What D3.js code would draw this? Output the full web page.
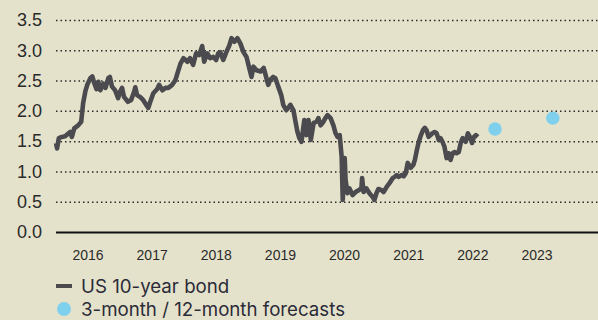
<!DOCTYPE html>
<html><head><meta charset="utf-8">
<script src="https://cdn.jsdelivr.net/npm/d3@7"></script>
<style>
html,body{margin:0;padding:0;background:#e5e2cc;}
svg{display:block;}
</style></head>
<body><svg id="c" width="598" height="320"></svg>
<script>
// ---- data ----
const bondDates = ["2016-07-01","2016-07-06","2016-07-14","2016-07-28","2016-08-12","2016-09-04","2016-09-12","2016-09-23","2016-10-11","2016-10-25","2016-11-03","2016-11-13","2016-11-22","2016-12-06","2016-12-15","2016-12-24","2017-01-03","2017-01-12","2017-01-21","2017-02-04","2017-02-14","2017-02-27","2017-03-06","2017-03-16","2017-03-30","2017-04-13","2017-04-22","2017-05-01","2017-05-10","2017-05-28","2017-06-12","2017-06-26","2017-07-01","2017-07-09","2017-07-23","2017-08-06","2017-08-20","2017-08-30","2017-09-08","2017-09-22","2017-10-10","2017-10-19","2017-11-03","2017-11-17","2017-11-30","2017-12-18","2018-01-02","2018-01-11","2018-01-25","2018-02-08","2018-02-26","2018-03-10","2018-03-24","2018-04-07","2018-04-21","2018-05-05","2018-05-14","2018-05-28","2018-06-11","2018-06-25","2018-07-08","2018-07-18","2018-07-27","2018-08-10","2018-08-24","2018-09-07","2018-09-17","2018-09-30","2018-10-14","2018-10-28","2018-11-11","2018-11-25","2018-12-04","2018-12-18","2018-12-27","2019-01-10","2019-01-29","2019-02-12","2019-02-21","2019-03-05","2019-03-14","2019-03-28","2019-04-07","2019-04-20","2019-05-04","2019-05-13","2019-05-27","2019-06-06","2019-06-15","2019-06-29","2019-07-07","2019-07-17","2019-07-26","2019-08-05","2019-08-18","2019-08-28","2019-09-06","2019-09-13","2019-09-17","2019-09-30","2019-10-13","2019-10-22","2019-11-01","2019-11-14","2019-11-23","2019-12-03","2019-12-17","2019-12-30","2020-01-09","2020-01-18","2020-01-28","2020-02-06","2020-02-11","2020-02-15","2020-02-20","2020-02-24","2020-03-04","2020-03-13","2020-03-27","2020-04-10","2020-04-24","2020-05-07","2020-05-10","2020-05-17","2020-05-30","2020-06-13","2020-06-27","2020-07-06","2020-07-15","2020-07-24","2020-08-08","2020-08-17","2020-09-01","2020-09-14","2020-09-28","2020-10-07","2020-10-16","2020-10-26","2020-11-09","2020-11-18","2020-11-27","2020-12-06","2020-12-20","2021-01-01","2021-01-08","2021-01-17","2021-01-26","2021-02-05","2021-02-14","2021-02-23","2021-03-03","2021-03-12","2021-03-21","2021-03-30","2021-04-09","2021-04-18","2021-04-28","2021-05-06","2021-05-15","2021-05-24","2021-06-03","2021-06-12","2021-06-21","2021-07-01","2021-07-10","2021-07-19","2021-07-29","2021-08-07","2021-08-16","2021-08-30","2021-09-09","2021-09-18","2021-09-28","2021-10-07","2021-10-16","2021-10-25"];
const bondValues = [1.47,1.38,1.55,1.57,1.58,1.65,1.57,1.71,1.76,1.82,2.13,2.32,2.43,2.54,2.57,2.46,2.36,2.48,2.34,2.45,2.38,2.54,2.56,2.40,2.34,2.21,2.32,2.38,2.23,2.15,2.18,2.32,2.39,2.26,2.23,2.18,2.10,2.05,2.15,2.29,2.36,2.43,2.34,2.38,2.38,2.43,2.51,2.62,2.78,2.87,2.81,2.87,2.76,2.95,2.92,3.07,2.81,2.95,2.87,2.89,2.84,2.95,2.97,2.84,2.97,3.08,3.20,3.14,3.20,3.11,2.97,2.89,2.76,2.56,2.73,2.67,2.65,2.71,2.59,2.43,2.51,2.56,2.54,2.40,2.26,2.10,2.01,2.05,2.10,2.01,1.85,1.66,1.55,1.49,1.85,1.60,1.85,1.68,1.52,1.80,1.82,1.88,1.76,1.82,1.88,1.93,1.88,1.76,1.63,1.57,1.60,1.24,0.53,0.86,1.22,0.86,0.64,0.72,0.61,0.66,0.69,0.72,0.89,0.66,0.72,0.64,0.58,0.53,0.64,0.71,0.69,0.66,0.75,0.81,0.89,0.91,0.94,0.91,0.94,0.92,0.97,1.14,1.06,1.11,1.19,1.35,1.49,1.60,1.68,1.72,1.68,1.57,1.60,1.63,1.65,1.63,1.52,1.55,1.49,1.41,1.22,1.30,1.19,1.30,1.32,1.30,1.32,1.47,1.55,1.49,1.63,1.57,1.47,1.57,1.60,1.57];
const forecastDates = ["2022-01-12","2022-10-05"];
const forecastValues = [1.70,1.88];
const yTicks = [0,0.5,1.0,1.5,2.0,2.5,3.0,3.5];
const xTickLabels = ["2016","2017","2018","2019","2020","2021","2022","2023"];
const legendLabels = ["US 10-year bond","3-month / 12-month forecasts"];
const lineColor = "#4b4a4e", dotColor = "#7fd0ec";

// ---- layout ----
const svg = d3.select("#c");
const plotL = 56, plotR = 598, plotT = 20, plotB = 232;
const parse = d3.utcParse("%Y-%m-%d");
const x = d3.scaleUtc().domain([parse("2016-07-01"), parse("2023-05-01")]).range([plotL, plotR]);
const y = d3.scaleLinear().domain([0, 3.5]).range([plotB, plotT]);
const xl = d3.scalePoint().domain(xTickLabels).range([87.5, 536.5]);

// y axis + dotted grid
const yAxis = svg.append("g").attr("transform", `translate(${plotL},0)`)
  .call(d3.axisLeft(y).tickValues(yTicks).tickFormat(d3.format(".1f")).tickSize(-(plotR-plotL)).tickPadding(14));
yAxis.select(".domain").remove();
yAxis.selectAll(".tick line").attr("stroke", "#2b2b2b").attr("stroke-width", 1.5)
  .attr("stroke-dasharray", "1.5 3");
yAxis.selectAll(".tick").filter(d => d === 0).select("line")
  .attr("stroke", "#111").attr("stroke-width", 2.2).attr("stroke-dasharray", null);
yAxis.selectAll(".tick text").attr("font-family", "'Liberation Sans', Arial, sans-serif")
  .attr("font-size", 18).attr("fill", "#2a2a2a");

// x labels
const xAxis = svg.append("g").attr("transform", `translate(0,${plotB})`)
  .call(d3.axisBottom(xl).tickSize(0).tickPadding(18));
xAxis.select(".domain").remove();
xAxis.selectAll(".tick text").attr("font-family", "'Liberation Sans', Arial, sans-serif")
  .attr("font-size", 14).attr("fill", "#2a2a2a");

// line
const bond = bondDates.map((d, i) => ({date: parse(d), value: bondValues[i]}));
svg.append("path").datum(bond)
  .attr("fill", "none").attr("stroke", lineColor).attr("stroke-width", 4.6)
  .attr("stroke-linejoin", "round").attr("stroke-linecap", "butt")
  .attr("d", d3.line().x(d => x(d.date)).y(d => y(d.value)));

// forecasts
const fc = forecastDates.map((d, i) => ({date: parse(d), value: forecastValues[i]}));
svg.selectAll("circle.fc").data(fc).join("circle").attr("class", "fc")
  .attr("cx", d => x(d.date)).attr("cy", d => y(d.value)).attr("r", 6.7).attr("fill", dotColor);

// legend
const lg = svg.append("g").attr("font-family", "Inter, 'Noto Sans', sans-serif").attr("font-size", 18.7).attr("fill", "#2b2b38");
lg.append("line").attr("x1", 56).attr("x2", 72).attr("y1", 286).attr("y2", 286)
  .attr("stroke", lineColor).attr("stroke-width", 4);
lg.append("text").attr("x", 81).attr("y", 292.5).text(legendLabels[0]);
lg.append("circle").attr("cx", 64).attr("cy", 309).attr("r", 7).attr("fill", dotColor);
lg.append("text").attr("x", 81).attr("y", 315.5).text(legendLabels[1]);
</script></body></html>
